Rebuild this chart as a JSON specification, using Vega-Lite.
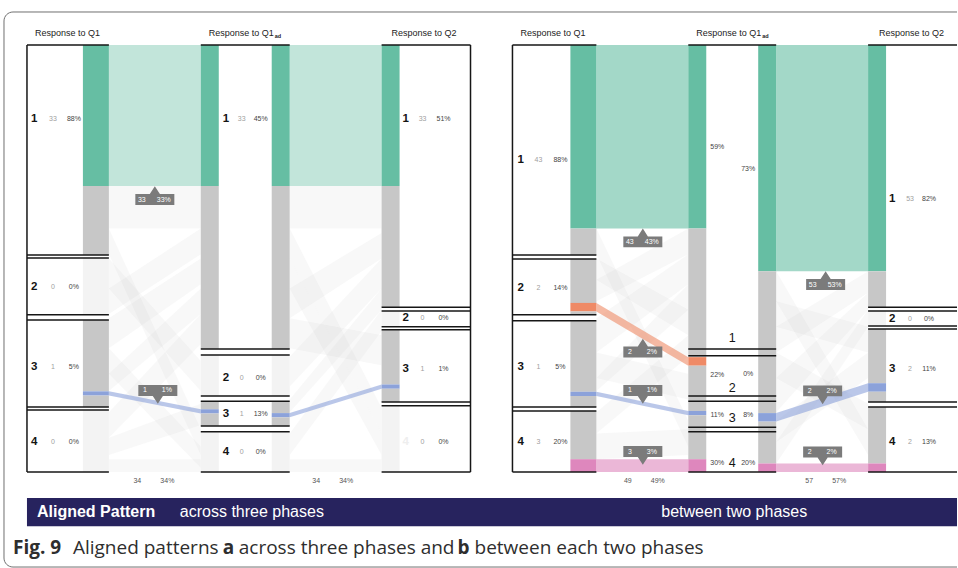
{
  "$schema": "https://vega.github.io/schema/vega-lite/v6.json",
  "width": 958,
  "height": 568,
  "autosize": {"type": "fit", "contains": "padding"},
  "padding": 0,
  "background": "white",
  "config": {"view": {"stroke": null}, "text": {"font": "Liberation Sans"}},
  "datasets": {
    "frame": [{"x0": 4, "x1": 990, "top": -7.73, "bottom": 122.25}],
    "banner": [{"x0": 27, "x1": 990, "top": 106.1, "bottom": 112.7}],
    "categories": [
      {"panel": "a", "axis": "Q1", "category": 1, "start": 0, "end": 49.2, "left": 27, "right": 109},
      {"panel": "a", "axis": "Q1", "category": 2, "start": 49.9, "end": 63.2, "left": 27, "right": 109},
      {"panel": "a", "axis": "Q1", "category": 3, "start": 64.4, "end": 84.8, "left": 27, "right": 109},
      {"panel": "a", "axis": "Q1", "category": 4, "start": 85.5, "end": 100, "left": 27, "right": 109},
      {"panel": "a", "axis": "Q1ad", "category": 1, "start": 0, "end": 71.2, "left": 201, "right": 290},
      {"panel": "a", "axis": "Q1ad", "category": 2, "start": 72.6, "end": 82.2, "left": 201, "right": 290},
      {"panel": "a", "axis": "Q1ad", "category": 3, "start": 83.4, "end": 89.2, "left": 201, "right": 290},
      {"panel": "a", "axis": "Q1ad", "category": 4, "start": 90.6, "end": 100, "left": 201, "right": 290},
      {"panel": "a", "axis": "Q2", "category": 1, "start": 0, "end": 61.4, "left": 382, "right": 471},
      {"panel": "a", "axis": "Q2", "category": 2, "start": 62.3, "end": 66.0, "left": 382, "right": 471},
      {"panel": "a", "axis": "Q2", "category": 3, "start": 66.7, "end": 83.6, "left": 382, "right": 471},
      {"panel": "a", "axis": "Q2", "category": 4, "start": 84.5, "end": 100, "left": 382, "right": 471},
      {"panel": "b", "axis": "Q1", "category": 1, "start": 0, "end": 49.2, "left": 513, "right": 597},
      {"panel": "b", "axis": "Q1", "category": 2, "start": 50.1, "end": 63.2, "left": 513, "right": 597},
      {"panel": "b", "axis": "Q1", "category": 3, "start": 64.6, "end": 84.8, "left": 513, "right": 597},
      {"panel": "b", "axis": "Q1", "category": 4, "start": 85.7, "end": 100, "left": 513, "right": 597},
      {"panel": "b", "axis": "Q1ad", "category": 1, "start": 0, "end": 71.2, "left": 689, "right": 777},
      {"panel": "b", "axis": "Q1ad", "category": 2, "start": 72.8, "end": 82.2, "left": 689, "right": 777},
      {"panel": "b", "axis": "Q1ad", "category": 3, "start": 83.4, "end": 89.5, "left": 689, "right": 777},
      {"panel": "b", "axis": "Q1ad", "category": 4, "start": 90.6, "end": 100, "left": 689, "right": 777},
      {"panel": "b", "axis": "Q2", "category": 1, "start": 0, "end": 61.4, "left": 869, "right": 958},
      {"panel": "b", "axis": "Q2", "category": 2, "start": 62.3, "end": 65.8, "left": 869, "right": 958},
      {"panel": "b", "axis": "Q2", "category": 3, "start": 66.5, "end": 83.6, "left": 869, "right": 958},
      {"panel": "b", "axis": "Q2", "category": 4, "start": 84.8, "end": 100, "left": 869, "right": 958}
    ],
    "edges": [
      {"panel": "a", "x": 27, "top": 0, "bottom": 100},
      {"panel": "a", "x": 471, "top": 0, "bottom": 100},
      {"panel": "b", "x": 513, "top": 0, "bottom": 100}
    ],
    "bars": [
      {"panel": "a", "axis": "Q1", "x0": 83, "x1": 109, "start": 0, "end": 33, "group": "aligned on 1"},
      {"panel": "a", "axis": "Q1", "x0": 83, "x1": 109, "start": 33, "end": 49.2, "group": "not aligned"},
      {"panel": "a", "axis": "Q1", "x0": 83, "x1": 109, "start": 49.9, "end": 63.2, "group": "no aligned answers"},
      {"panel": "a", "axis": "Q1", "x0": 83, "x1": 109, "start": 64.4, "end": 81.1, "group": "not aligned"},
      {"panel": "a", "axis": "Q1", "x0": 83, "x1": 109, "start": 81.1, "end": 82.1, "group": "aligned on 3"},
      {"panel": "a", "axis": "Q1", "x0": 83, "x1": 109, "start": 82.1, "end": 84.8, "group": "not aligned"},
      {"panel": "a", "axis": "Q1", "x0": 83, "x1": 109, "start": 85.5, "end": 100, "group": "no aligned answers"},

      {"panel": "a", "axis": "Q1ad in", "x0": 201, "x1": 219, "start": 0, "end": 33, "group": "aligned on 1"},
      {"panel": "a", "axis": "Q1ad in", "x0": 201, "x1": 219, "start": 33, "end": 71.2, "group": "not aligned"},
      {"panel": "a", "axis": "Q1ad in", "x0": 201, "x1": 219, "start": 72.6, "end": 82.2, "group": "no aligned answers"},
      {"panel": "a", "axis": "Q1ad in", "x0": 201, "x1": 219, "start": 83.4, "end": 85.3, "group": "not aligned"},
      {"panel": "a", "axis": "Q1ad in", "x0": 201, "x1": 219, "start": 85.3, "end": 86.3, "group": "aligned on 3"},
      {"panel": "a", "axis": "Q1ad in", "x0": 201, "x1": 219, "start": 86.3, "end": 89.2, "group": "not aligned"},
      {"panel": "a", "axis": "Q1ad in", "x0": 201, "x1": 219, "start": 90.6, "end": 100, "group": "no aligned answers"},

      {"panel": "a", "axis": "Q1ad out", "x0": 272, "x1": 290, "start": 0, "end": 33, "group": "aligned on 1"},
      {"panel": "a", "axis": "Q1ad out", "x0": 272, "x1": 290, "start": 33, "end": 71.2, "group": "not aligned"},
      {"panel": "a", "axis": "Q1ad out", "x0": 272, "x1": 290, "start": 72.6, "end": 82.2, "group": "no aligned answers"},
      {"panel": "a", "axis": "Q1ad out", "x0": 272, "x1": 290, "start": 83.4, "end": 86.2, "group": "not aligned"},
      {"panel": "a", "axis": "Q1ad out", "x0": 272, "x1": 290, "start": 86.2, "end": 87.2, "group": "aligned on 3"},
      {"panel": "a", "axis": "Q1ad out", "x0": 272, "x1": 290, "start": 87.2, "end": 89.2, "group": "not aligned"},
      {"panel": "a", "axis": "Q1ad out", "x0": 272, "x1": 290, "start": 90.6, "end": 100, "group": "no aligned answers"},

      {"panel": "a", "axis": "Q2", "x0": 382, "x1": 400, "start": 0, "end": 33, "group": "aligned on 1"},
      {"panel": "a", "axis": "Q2", "x0": 382, "x1": 400, "start": 33, "end": 61.4, "group": "not aligned"},
      {"panel": "a", "axis": "Q2", "x0": 382, "x1": 400, "start": 62.3, "end": 66.0, "group": "no aligned answers"},
      {"panel": "a", "axis": "Q2", "x0": 382, "x1": 400, "start": 66.7, "end": 79.5, "group": "not aligned"},
      {"panel": "a", "axis": "Q2", "x0": 382, "x1": 400, "start": 79.5, "end": 80.5, "group": "aligned on 3"},
      {"panel": "a", "axis": "Q2", "x0": 382, "x1": 400, "start": 80.5, "end": 83.6, "group": "not aligned"},
      {"panel": "a", "axis": "Q2", "x0": 382, "x1": 400, "start": 84.5, "end": 100, "group": "no aligned answers"},

      {"panel": "b", "axis": "Q1", "x0": 571, "x1": 597, "start": 0, "end": 43, "group": "aligned on 1"},
      {"panel": "b", "axis": "Q1", "x0": 571, "x1": 597, "start": 43, "end": 49.2, "group": "not aligned"},
      {"panel": "b", "axis": "Q1", "x0": 571, "x1": 597, "start": 50.1, "end": 60.4, "group": "not aligned"},
      {"panel": "b", "axis": "Q1", "x0": 571, "x1": 597, "start": 60.4, "end": 62.4, "group": "aligned on 2"},
      {"panel": "b", "axis": "Q1", "x0": 571, "x1": 597, "start": 62.4, "end": 63.2, "group": "not aligned"},
      {"panel": "b", "axis": "Q1", "x0": 571, "x1": 597, "start": 64.6, "end": 81.2, "group": "not aligned"},
      {"panel": "b", "axis": "Q1", "x0": 571, "x1": 597, "start": 81.2, "end": 82.2, "group": "aligned on 3"},
      {"panel": "b", "axis": "Q1", "x0": 571, "x1": 597, "start": 82.2, "end": 84.8, "group": "not aligned"},
      {"panel": "b", "axis": "Q1", "x0": 571, "x1": 597, "start": 85.7, "end": 97, "group": "not aligned"},
      {"panel": "b", "axis": "Q1", "x0": 571, "x1": 597, "start": 97, "end": 100, "group": "aligned on 4"},

      {"panel": "b", "axis": "Q1ad in", "x0": 689, "x1": 707, "start": 0, "end": 43, "group": "aligned on 1"},
      {"panel": "b", "axis": "Q1ad in", "x0": 689, "x1": 707, "start": 43, "end": 73.1, "group": "not aligned"},
      {"panel": "b", "axis": "Q1ad in", "x0": 689, "x1": 707, "start": 73.1, "end": 75.1, "group": "aligned on 2"},
      {"panel": "b", "axis": "Q1ad in", "x0": 689, "x1": 707, "start": 75.1, "end": 85.7, "group": "not aligned"},
      {"panel": "b", "axis": "Q1ad in", "x0": 689, "x1": 707, "start": 85.7, "end": 86.7, "group": "aligned on 3"},
      {"panel": "b", "axis": "Q1ad in", "x0": 689, "x1": 707, "start": 86.7, "end": 97, "group": "not aligned"},
      {"panel": "b", "axis": "Q1ad in", "x0": 689, "x1": 707, "start": 97, "end": 100, "group": "aligned on 4"},

      {"panel": "b", "axis": "Q1ad out", "x0": 759, "x1": 777, "start": 0, "end": 53, "group": "aligned on 1"},
      {"panel": "b", "axis": "Q1ad out", "x0": 759, "x1": 777, "start": 53, "end": 86.2, "group": "not aligned"},
      {"panel": "b", "axis": "Q1ad out", "x0": 759, "x1": 777, "start": 86.2, "end": 88.2, "group": "aligned on 3"},
      {"panel": "b", "axis": "Q1ad out", "x0": 759, "x1": 777, "start": 88.2, "end": 98, "group": "not aligned"},
      {"panel": "b", "axis": "Q1ad out", "x0": 759, "x1": 777, "start": 98, "end": 100, "group": "aligned on 4"},

      {"panel": "b", "axis": "Q2", "x0": 869, "x1": 887, "start": 0, "end": 53, "group": "aligned on 1"},
      {"panel": "b", "axis": "Q2", "x0": 869, "x1": 887, "start": 53, "end": 61.4, "group": "not aligned"},
      {"panel": "b", "axis": "Q2", "x0": 869, "x1": 887, "start": 62.3, "end": 65.8, "group": "no aligned answers"},
      {"panel": "b", "axis": "Q2", "x0": 869, "x1": 887, "start": 66.5, "end": 79.2, "group": "not aligned"},
      {"panel": "b", "axis": "Q2", "x0": 869, "x1": 887, "start": 79.2, "end": 81.2, "group": "aligned on 3"},
      {"panel": "b", "axis": "Q2", "x0": 869, "x1": 887, "start": 81.2, "end": 83.6, "group": "not aligned"},
      {"panel": "b", "axis": "Q2", "x0": 869, "x1": 887, "start": 84.8, "end": 98, "group": "not aligned"},
      {"panel": "b", "axis": "Q2", "x0": 869, "x1": 887, "start": 98, "end": 100, "group": "aligned on 4"}
    ],
    "ribbons": [
      {"panel": "a", "id": "a1-1", "group": "aligned on 1", "x": 109, "top": 0, "bottom": 33},
      {"panel": "a", "id": "a1-1", "group": "aligned on 1", "x": 201, "top": 0, "bottom": 33},
      {"panel": "a", "id": "a1-3", "group": "aligned on 3", "x": 109, "top": 81.1, "bottom": 82.1},
      {"panel": "a", "id": "a1-3", "group": "aligned on 3", "x": 201, "top": 85.3, "bottom": 86.3},
      {"panel": "a", "id": "a2-1", "group": "aligned on 1", "x": 290, "top": 0, "bottom": 33},
      {"panel": "a", "id": "a2-1", "group": "aligned on 1", "x": 382, "top": 0, "bottom": 33},
      {"panel": "a", "id": "a2-3", "group": "aligned on 3", "x": 290, "top": 86.2, "bottom": 87.2},
      {"panel": "a", "id": "a2-3", "group": "aligned on 3", "x": 382, "top": 79.5, "bottom": 80.5},
      {"panel": "b", "id": "b1-1", "group": "aligned on 1", "x": 597, "top": 0, "bottom": 43},
      {"panel": "b", "id": "b1-1", "group": "aligned on 1", "x": 689, "top": 0, "bottom": 43},
      {"panel": "b", "id": "b1-2", "group": "aligned on 2", "x": 597, "top": 60.4, "bottom": 62.4},
      {"panel": "b", "id": "b1-2", "group": "aligned on 2", "x": 689, "top": 73.1, "bottom": 75.1},
      {"panel": "b", "id": "b1-3", "group": "aligned on 3", "x": 597, "top": 81.2, "bottom": 82.2},
      {"panel": "b", "id": "b1-3", "group": "aligned on 3", "x": 689, "top": 85.7, "bottom": 86.7},
      {"panel": "b", "id": "b1-4", "group": "aligned on 4", "x": 597, "top": 97, "bottom": 100},
      {"panel": "b", "id": "b1-4", "group": "aligned on 4", "x": 689, "top": 97, "bottom": 100},
      {"panel": "b", "id": "b2-1", "group": "aligned on 1", "x": 777, "top": 0, "bottom": 53},
      {"panel": "b", "id": "b2-1", "group": "aligned on 1", "x": 869, "top": 0, "bottom": 53},
      {"panel": "b", "id": "b2-3", "group": "aligned on 3", "x": 777, "top": 86.2, "bottom": 88.2},
      {"panel": "b", "id": "b2-3", "group": "aligned on 3", "x": 869, "top": 79.2, "bottom": 81.2},
      {"panel": "b", "id": "b2-4", "group": "aligned on 4", "x": 777, "top": 98, "bottom": 100},
      {"panel": "b", "id": "b2-4", "group": "aligned on 4", "x": 869, "top": 98, "bottom": 100}
    ],
    "crossings": [
      {"id": "a1-r1", "x": 109, "top": 33, "bottom": 43}, {"id": "a1-r1", "x": 201, "top": 33, "bottom": 43},
      {"id": "a1-r2", "x": 109, "top": 43, "bottom": 49}, {"id": "a1-r2", "x": 201, "top": 90, "bottom": 96},
      {"id": "a1-r3", "x": 109, "top": 50, "bottom": 57}, {"id": "a1-r3", "x": 201, "top": 74, "bottom": 81},
      {"id": "a1-r4", "x": 109, "top": 57, "bottom": 63}, {"id": "a1-r4", "x": 201, "top": 43, "bottom": 49},
      {"id": "a1-r5", "x": 109, "top": 64, "bottom": 71}, {"id": "a1-r5", "x": 201, "top": 50, "bottom": 56},
      {"id": "a1-r6", "x": 109, "top": 71, "bottom": 77}, {"id": "a1-r6", "x": 201, "top": 94, "bottom": 99},
      {"id": "a1-r7", "x": 109, "top": 77, "bottom": 81}, {"id": "a1-r7", "x": 201, "top": 57, "bottom": 63},
      {"id": "a1-r8", "x": 109, "top": 86, "bottom": 92}, {"id": "a1-r8", "x": 201, "top": 63, "bottom": 70},
      {"id": "a1-r9", "x": 109, "top": 92, "bottom": 96}, {"id": "a1-r9", "x": 201, "top": 84, "bottom": 89},
      {"id": "a1-r10", "x": 109, "top": 97, "bottom": 100}, {"id": "a1-r10", "x": 201, "top": 97, "bottom": 100},

      {"id": "a2-r1", "x": 290, "top": 33, "bottom": 43}, {"id": "a2-r1", "x": 382, "top": 33, "bottom": 43},
      {"id": "a2-r2", "x": 290, "top": 43, "bottom": 50}, {"id": "a2-r2", "x": 382, "top": 85, "bottom": 91},
      {"id": "a2-r3", "x": 290, "top": 50, "bottom": 57}, {"id": "a2-r3", "x": 382, "top": 91, "bottom": 96},
      {"id": "a2-r4", "x": 290, "top": 57, "bottom": 64}, {"id": "a2-r4", "x": 382, "top": 44, "bottom": 50},
      {"id": "a2-r5", "x": 290, "top": 64, "bottom": 71}, {"id": "a2-r5", "x": 382, "top": 68, "bottom": 75},
      {"id": "a2-r6", "x": 290, "top": 73, "bottom": 80}, {"id": "a2-r6", "x": 382, "top": 50, "bottom": 57},
      {"id": "a2-r7", "x": 290, "top": 83, "bottom": 86}, {"id": "a2-r7", "x": 382, "top": 57, "bottom": 62},
      {"id": "a2-r8", "x": 290, "top": 91, "bottom": 96}, {"id": "a2-r8", "x": 382, "top": 62, "bottom": 67},
      {"id": "a2-r9", "x": 290, "top": 97, "bottom": 100}, {"id": "a2-r9", "x": 382, "top": 97, "bottom": 100},

      {"id": "b1-r1", "x": 597, "top": 43, "bottom": 49}, {"id": "b1-r1", "x": 689, "top": 88, "bottom": 94},
      {"id": "b1-r2", "x": 597, "top": 50, "bottom": 55}, {"id": "b1-r2", "x": 689, "top": 62, "bottom": 68},
      {"id": "b1-r3", "x": 597, "top": 55, "bottom": 60}, {"id": "b1-r3", "x": 689, "top": 43, "bottom": 49},
      {"id": "b1-r4", "x": 597, "top": 64, "bottom": 72}, {"id": "b1-r4", "x": 689, "top": 49, "bottom": 56},
      {"id": "b1-r5", "x": 597, "top": 72, "bottom": 78}, {"id": "b1-r5", "x": 689, "top": 77, "bottom": 83},
      {"id": "b1-r6", "x": 597, "top": 78, "bottom": 81}, {"id": "b1-r6", "x": 689, "top": 56, "bottom": 62},
      {"id": "b1-r7", "x": 597, "top": 86, "bottom": 91}, {"id": "b1-r7", "x": 689, "top": 68, "bottom": 73},
      {"id": "b1-r8", "x": 597, "top": 91, "bottom": 97}, {"id": "b1-r8", "x": 689, "top": 90, "bottom": 96},

      {"id": "b2-r1", "x": 777, "top": 53, "bottom": 60}, {"id": "b2-r1", "x": 869, "top": 90, "bottom": 96},
      {"id": "b2-r2", "x": 777, "top": 60, "bottom": 66}, {"id": "b2-r2", "x": 869, "top": 66, "bottom": 72},
      {"id": "b2-r3", "x": 777, "top": 66, "bottom": 72}, {"id": "b2-r3", "x": 869, "top": 53, "bottom": 58},
      {"id": "b2-r4", "x": 777, "top": 72, "bottom": 78}, {"id": "b2-r4", "x": 869, "top": 84, "bottom": 90},
      {"id": "b2-r5", "x": 777, "top": 78, "bottom": 86}, {"id": "b2-r5", "x": 869, "top": 58, "bottom": 62},
      {"id": "b2-r6", "x": 777, "top": 88, "bottom": 93}, {"id": "b2-r6", "x": 869, "top": 72, "bottom": 78},
      {"id": "b2-r7", "x": 777, "top": 93, "bottom": 98}, {"id": "b2-r7", "x": 869, "top": 62, "bottom": 66}
    ],
    "headers": [
      {"title": "Response to Q1", "x": 35},
      {"title": "Response to Q1", "x": 209},
      {"title": "Response to Q2", "x": 392},
      {"title": "Response to Q1", "x": 521},
      {"title": "Response to Q1", "x": 697},
      {"title": "Response to Q2", "x": 880}
    ],
    "subscripts": [
      {"sub": "ad", "x": 275},
      {"sub": "ad", "x": 763}
    ],
    "labels": [
      {"panel": "a", "axis": "Q1", "category": 1, "count": 33, "pct": "88%", "y": 17.3, "xDigit": 31, "xCount": 53, "xPct": 74},
      {"panel": "a", "axis": "Q1", "category": 2, "count": 0, "pct": "0%", "y": 56.7, "xDigit": 31, "xCount": 53, "xPct": 74},
      {"panel": "a", "axis": "Q1", "category": 3, "count": 1, "pct": "5%", "y": 75.4, "xDigit": 31, "xCount": 53, "xPct": 74},
      {"panel": "a", "axis": "Q1", "category": 4, "count": 0, "pct": "0%", "y": 93.0, "xDigit": 31, "xCount": 53, "xPct": 74},
      {"panel": "a", "axis": "Q1ad", "category": 1, "count": 33, "pct": "45%", "y": 17.3, "xDigit": 223, "xCount": 242, "xPct": 261},
      {"panel": "a", "axis": "Q1ad", "category": 2, "count": 0, "pct": "0%", "y": 78.0, "xDigit": 223, "xCount": 242, "xPct": 261},
      {"panel": "a", "axis": "Q1ad", "category": 3, "count": 1, "pct": "13%", "y": 86.4, "xDigit": 223, "xCount": 242, "xPct": 261},
      {"panel": "a", "axis": "Q1ad", "category": 4, "count": 0, "pct": "0%", "y": 95.3, "xDigit": 223, "xCount": 242, "xPct": 261},
      {"panel": "a", "axis": "Q2", "category": 1, "count": 33, "pct": "51%", "y": 17.3, "xDigit": 403, "xCount": 423, "xPct": 444},
      {"panel": "a", "axis": "Q2", "category": 2, "count": 0, "pct": "0%", "y": 63.9, "xDigit": 403, "xCount": 423, "xPct": 444},
      {"panel": "a", "axis": "Q2", "category": 3, "count": 1, "pct": "1%", "y": 75.9, "xDigit": 403, "xCount": 423, "xPct": 444},
      {"panel": "a", "axis": "Q2", "category": 4, "count": 0, "pct": "0%", "y": 93.0, "xDigit": 403, "xCount": 423, "xPct": 444},
      {"panel": "b", "axis": "Q1", "category": 1, "count": 43, "pct": "88%", "y": 26.9, "xDigit": 518, "xCount": 539, "xPct": 561},
      {"panel": "b", "axis": "Q1", "category": 2, "count": 2, "pct": "14%", "y": 56.9, "xDigit": 518, "xCount": 539, "xPct": 561},
      {"panel": "b", "axis": "Q1", "category": 3, "count": 1, "pct": "5%", "y": 75.4, "xDigit": 518, "xCount": 539, "xPct": 561},
      {"panel": "b", "axis": "Q1", "category": 4, "count": 3, "pct": "20%", "y": 93.0, "xDigit": 518, "xCount": 539, "xPct": 561},
      {"panel": "b", "axis": "Q2", "category": 1, "count": 53, "pct": "82%", "y": 36.1, "xDigit": 890, "xCount": 911, "xPct": 930},
      {"panel": "b", "axis": "Q2", "category": 2, "count": 0, "pct": "0%", "y": 64.2, "xDigit": 890, "xCount": 911, "xPct": 930},
      {"panel": "b", "axis": "Q2", "category": 3, "count": 2, "pct": "11%", "y": 75.9, "xDigit": 890, "xCount": 911, "xPct": 930},
      {"panel": "b", "axis": "Q2", "category": 4, "count": 2, "pct": "13%", "y": 93.0, "xDigit": 890, "xCount": 911, "xPct": 930}
    ],
    "middleAxis": [
      {"category": 1, "y": 68.6, "shareIn": "59%", "yIn": 23.9, "shareOut": "73%", "yOut": 29.0},
      {"category": 2, "y": 80.3, "shareIn": "22%", "yIn": 77.3, "shareOut": "0%", "yOut": 77.0},
      {"category": 3, "y": 87.4, "shareIn": "11%", "yIn": 86.7, "shareOut": "8%", "yOut": 86.7},
      {"category": 4, "y": 97.9, "shareIn": "30%", "yIn": 97.9, "shareOut": "20%", "yOut": 97.9}
    ],
    "totals": [
      {"panel": "a", "link": "Q1-Q1ad", "count": 34, "pct": "34%", "x": 152.5},
      {"panel": "a", "link": "Q1ad-Q2", "count": 34, "pct": "34%", "x": 331.5},
      {"panel": "b", "link": "Q1-Q1ad", "count": 49, "pct": "49%", "x": 643.5},
      {"panel": "b", "link": "Q1ad-Q2", "count": 57, "pct": "57%", "x": 825}
    ],
    "callouts": [
      {"panel": "a", "link": "Q1-Q1ad", "count": 33, "pct": "33%", "x": 155, "y": 36.2, "dir": "up"},
      {"panel": "a", "link": "Q1-Q1ad", "count": 1, "pct": "1%", "x": 158, "y": 80.9, "dir": "down"},
      {"panel": "b", "link": "Q1-Q1ad", "count": 43, "pct": "43%", "x": 643.5, "y": 46.1, "dir": "up"},
      {"panel": "b", "link": "Q1-Q1ad", "count": 2, "pct": "2%", "x": 643.5, "y": 71.9, "dir": "up"},
      {"panel": "b", "link": "Q1-Q1ad", "count": 1, "pct": "1%", "x": 643.5, "y": 80.9, "dir": "down"},
      {"panel": "b", "link": "Q1-Q1ad", "count": 3, "pct": "3%", "x": 643.5, "y": 95.2, "dir": "down"},
      {"panel": "b", "link": "Q1ad-Q2", "count": 53, "pct": "53%", "x": 826.5, "y": 56.1, "dir": "up"},
      {"panel": "b", "link": "Q1ad-Q2", "count": 2, "pct": "2%", "x": 823.5, "y": 81.0, "dir": "down"},
      {"panel": "b", "link": "Q1ad-Q2", "count": 2, "pct": "2%", "x": 823.5, "y": 95.3, "dir": "down"}
    ],
    "bannerBold": [{"text": "Aligned Pattern", "x": 37}],
    "bannerText": [
      {"text": "across three phases", "x": 180},
      {"text": "between two phases", "x": 662}
    ],
    "captionBold": [
      {"text": "Fig. 9", "x": 13},
      {"text": "a", "x": 223},
      {"text": "b", "x": 458}
    ],
    "captionText": [
      {"text": "Aligned patterns", "x": 73},
      {"text": "across three phases and", "x": 239},
      {"text": "between each two phases", "x": 475}
    ]
  },
  "layer": [
    {
      "data": {"name": "frame"},
      "mark": {"type": "rect", "fill": "transparent", "stroke": "#707070", "strokeWidth": 1, "cornerRadius": 9, "clip": true},
      "encoding": {
        "x": {"field": "x0", "type": "quantitative", "scale": {"domain": [0, 958], "nice": false, "zero": false}, "axis": null},
        "x2": {"field": "x1"},
        "y": {"field": "top", "type": "quantitative", "scale": {"domain": [-10.54, 122.48], "reverse": true, "nice": false, "zero": false}, "axis": null},
        "y2": {"field": "bottom"}
      }
    },
    {
      "data": {"name": "crossings"},
      "mark": {"type": "area", "color": "#c8c8c8", "opacity": 0.13},
      "encoding": {
        "x": {"field": "x", "type": "quantitative", "scale": {"domain": [0, 958], "nice": false, "zero": false}, "axis": null},
        "y": {"field": "top", "type": "quantitative", "scale": {"domain": [-10.54, 122.48], "reverse": true, "nice": false, "zero": false}, "axis": null},
        "y2": {"field": "bottom"},
        "detail": {"field": "id"}
      }
    },
    {
      "data": {"name": "ribbons"},
      "mark": {"type": "area"},
      "encoding": {
        "x": {"field": "x", "type": "quantitative", "scale": {"domain": [0, 958], "nice": false, "zero": false}, "axis": null},
        "y": {"field": "top", "type": "quantitative", "scale": {"domain": [-10.54, 122.48], "reverse": true, "nice": false, "zero": false}, "axis": null},
        "y2": {"field": "bottom"},
        "detail": {"field": "id"},
        "color": {"field": "group", "type": "nominal", "legend": null,
          "scale": {"domain": ["aligned on 1", "aligned on 2", "aligned on 3", "aligned on 4", "not aligned", "no aligned answers"],
                    "range": ["#66bea3", "#ef8a66", "#8ca2da", "#de87bd", "#c7c7c7", "#f3f3f3"]}},
        "opacity": {"condition": {"test": "datum.panel === 'a' && datum.group === 'aligned on 1'", "value": 0.4}, "value": 0.6}
      }
    },
    {
      "data": {"name": "bars"},
      "mark": {"type": "rect"},
      "encoding": {
        "x": {"field": "x0", "type": "quantitative", "scale": {"domain": [0, 958], "nice": false, "zero": false}, "axis": null},
        "x2": {"field": "x1"},
        "y": {"field": "start", "type": "quantitative", "scale": {"domain": [-10.54, 122.48], "reverse": true, "nice": false, "zero": false}, "axis": null},
        "y2": {"field": "end"},
        "color": {"field": "group", "type": "nominal", "legend": null,
          "scale": {"domain": ["aligned on 1", "aligned on 2", "aligned on 3", "aligned on 4", "not aligned", "no aligned answers"],
                    "range": ["#66bea3", "#ef8a66", "#8ca2da", "#de87bd", "#c7c7c7", "#f3f3f3"]}}
      }
    },
    {
      "data": {"name": "categories"},
      "mark": {"type": "rule", "color": "#161616", "strokeWidth": 1.5},
      "encoding": {
        "x": {"field": "left", "type": "quantitative", "scale": {"domain": [0, 958], "nice": false, "zero": false}, "axis": null},
        "x2": {"field": "right"},
        "y": {"field": "start", "type": "quantitative", "scale": {"domain": [-10.54, 122.48], "reverse": true, "nice": false, "zero": false}, "axis": null}
      }
    },
    {
      "data": {"name": "categories"},
      "mark": {"type": "rule", "color": "#161616", "strokeWidth": 1.5},
      "encoding": {
        "x": {"field": "left", "type": "quantitative", "scale": {"domain": [0, 958], "nice": false, "zero": false}, "axis": null},
        "x2": {"field": "right"},
        "y": {"field": "end", "type": "quantitative", "scale": {"domain": [-10.54, 122.48], "reverse": true, "nice": false, "zero": false}, "axis": null}
      }
    },
    {
      "data": {"name": "edges"},
      "mark": {"type": "rule", "color": "#161616", "strokeWidth": 1.5},
      "encoding": {
        "x": {"field": "x", "type": "quantitative", "scale": {"domain": [0, 958], "nice": false, "zero": false}, "axis": null},
        "y": {"field": "top", "type": "quantitative", "scale": {"domain": [-10.54, 122.48], "reverse": true, "nice": false, "zero": false}, "axis": null},
        "y2": {"field": "bottom"}
      }
    },
    {
      "data": {"name": "headers"},
      "mark": {"type": "text", "align": "left", "baseline": "middle", "fontSize": 9, "color": "#222222"},
      "encoding": {
        "x": {"field": "x", "type": "quantitative", "scale": {"domain": [0, 958], "nice": false, "zero": false}, "axis": null},
        "y": {"datum": -2.8, "type": "quantitative", "scale": {"domain": [-10.54, 122.48], "reverse": true, "nice": false, "zero": false}, "axis": null},
        "text": {"field": "title"}
      }
    },
    {
      "data": {"name": "subscripts"},
      "mark": {"type": "text", "align": "left", "baseline": "middle", "fontSize": 5.5, "fontWeight": "bold", "color": "#222222"},
      "encoding": {
        "x": {"field": "x", "type": "quantitative", "scale": {"domain": [0, 958], "nice": false, "zero": false}, "axis": null},
        "y": {"datum": -2.1, "type": "quantitative", "scale": {"domain": [-10.54, 122.48], "reverse": true, "nice": false, "zero": false}, "axis": null},
        "text": {"field": "sub"}
      }
    },
    {
      "data": {"name": "labels"},
      "mark": {"type": "text", "align": "left", "baseline": "middle", "fontSize": 11.5, "fontWeight": "bold"},
      "encoding": {
        "x": {"field": "xDigit", "type": "quantitative", "scale": {"domain": [0, 958], "nice": false, "zero": false}, "axis": null},
        "y": {"field": "y", "type": "quantitative", "scale": {"domain": [-10.54, 122.48], "reverse": true, "nice": false, "zero": false}, "axis": null},
        "text": {"field": "category"},
        "color": {"condition": {"test": "datum.panel === 'a' && datum.axis === 'Q2' && datum.category === 4", "value": "#eeeeee"}, "value": "#141414"}
      }
    },
    {
      "data": {"name": "labels"},
      "mark": {"type": "text", "align": "center", "baseline": "middle", "fontSize": 7, "color": "#a0a0a0"},
      "encoding": {
        "x": {"field": "xCount", "type": "quantitative", "scale": {"domain": [0, 958], "nice": false, "zero": false}, "axis": null},
        "y": {"field": "y", "type": "quantitative", "scale": {"domain": [-10.54, 122.48], "reverse": true, "nice": false, "zero": false}, "axis": null},
        "text": {"field": "count"}
      }
    },
    {
      "data": {"name": "labels"},
      "mark": {"type": "text", "align": "center", "baseline": "middle", "fontSize": 7, "color": "#444444"},
      "encoding": {
        "x": {"field": "xPct", "type": "quantitative", "scale": {"domain": [0, 958], "nice": false, "zero": false}, "axis": null},
        "y": {"field": "y", "type": "quantitative", "scale": {"domain": [-10.54, 122.48], "reverse": true, "nice": false, "zero": false}, "axis": null},
        "text": {"field": "pct"}
      }
    },
    {
      "data": {"name": "middleAxis"},
      "mark": {"type": "text", "align": "center", "baseline": "middle", "fontSize": 12.5, "color": "#141414"},
      "encoding": {
        "x": {"datum": 733, "type": "quantitative", "scale": {"domain": [0, 958], "nice": false, "zero": false}, "axis": null},
        "y": {"field": "y", "type": "quantitative", "scale": {"domain": [-10.54, 122.48], "reverse": true, "nice": false, "zero": false}, "axis": null},
        "text": {"field": "category"}
      }
    },
    {
      "data": {"name": "middleAxis"},
      "mark": {"type": "text", "align": "center", "baseline": "middle", "fontSize": 7, "color": "#444444"},
      "encoding": {
        "x": {"datum": 718, "type": "quantitative", "scale": {"domain": [0, 958], "nice": false, "zero": false}, "axis": null},
        "y": {"field": "yIn", "type": "quantitative", "scale": {"domain": [-10.54, 122.48], "reverse": true, "nice": false, "zero": false}, "axis": null},
        "text": {"field": "shareIn"}
      }
    },
    {
      "data": {"name": "middleAxis"},
      "mark": {"type": "text", "align": "center", "baseline": "middle", "fontSize": 7, "color": "#444444"},
      "encoding": {
        "x": {"datum": 749, "type": "quantitative", "scale": {"domain": [0, 958], "nice": false, "zero": false}, "axis": null},
        "y": {"field": "yOut", "type": "quantitative", "scale": {"domain": [-10.54, 122.48], "reverse": true, "nice": false, "zero": false}, "axis": null},
        "text": {"field": "shareOut"}
      }
    },
    {
      "data": {"name": "totals"},
      "mark": {"type": "text", "align": "center", "baseline": "middle", "fontSize": 7, "color": "#555555", "dx": -15},
      "encoding": {
        "x": {"field": "x", "type": "quantitative", "scale": {"domain": [0, 958], "nice": false, "zero": false}, "axis": null},
        "y": {"datum": 102.1, "type": "quantitative", "scale": {"domain": [-10.54, 122.48], "reverse": true, "nice": false, "zero": false}, "axis": null},
        "text": {"field": "count"}
      }
    },
    {
      "data": {"name": "totals"},
      "mark": {"type": "text", "align": "center", "baseline": "middle", "fontSize": 7, "color": "#555555", "dx": 15},
      "encoding": {
        "x": {"field": "x", "type": "quantitative", "scale": {"domain": [0, 958], "nice": false, "zero": false}, "axis": null},
        "y": {"datum": 102.1, "type": "quantitative", "scale": {"domain": [-10.54, 122.48], "reverse": true, "nice": false, "zero": false}, "axis": null},
        "text": {"field": "pct"}
      }
    },
    {
      "data": {"name": "callouts"},
      "transform": [{"filter": "datum.dir === 'up'"}],
      "mark": {"type": "point", "filled": true, "opacity": 1, "color": "#7b7b7b", "strokeWidth": 0, "size": 1521,
               "shape": "M-1,-0.28L-0.26,-0.28L0,-0.68L0.26,-0.28L1,-0.28L1,0.28L-1,0.28Z"},
      "encoding": {
        "x": {"field": "x", "type": "quantitative", "scale": {"domain": [0, 958], "nice": false, "zero": false}, "axis": null},
        "y": {"field": "y", "type": "quantitative", "scale": {"domain": [-10.54, 122.48], "reverse": true, "nice": false, "zero": false}, "axis": null}
      }
    },
    {
      "data": {"name": "callouts"},
      "transform": [{"filter": "datum.dir === 'down'"}],
      "mark": {"type": "point", "filled": true, "opacity": 1, "color": "#7b7b7b", "strokeWidth": 0, "size": 1521,
               "shape": "M-1,-0.28L1,-0.28L1,0.28L0.26,0.28L0,0.68L-0.26,0.28L-1,0.28Z"},
      "encoding": {
        "x": {"field": "x", "type": "quantitative", "scale": {"domain": [0, 958], "nice": false, "zero": false}, "axis": null},
        "y": {"field": "y", "type": "quantitative", "scale": {"domain": [-10.54, 122.48], "reverse": true, "nice": false, "zero": false}, "axis": null}
      }
    },
    {
      "data": {"name": "callouts"},
      "mark": {"type": "text", "align": "center", "baseline": "middle", "fontSize": 7, "color": "white", "dx": -13},
      "encoding": {
        "x": {"field": "x", "type": "quantitative", "scale": {"domain": [0, 958], "nice": false, "zero": false}, "axis": null},
        "y": {"field": "y", "type": "quantitative", "scale": {"domain": [-10.54, 122.48], "reverse": true, "nice": false, "zero": false}, "axis": null},
        "text": {"field": "count"}
      }
    },
    {
      "data": {"name": "callouts"},
      "mark": {"type": "text", "align": "center", "baseline": "middle", "fontSize": 7, "color": "white", "dx": 9},
      "encoding": {
        "x": {"field": "x", "type": "quantitative", "scale": {"domain": [0, 958], "nice": false, "zero": false}, "axis": null},
        "y": {"field": "y", "type": "quantitative", "scale": {"domain": [-10.54, 122.48], "reverse": true, "nice": false, "zero": false}, "axis": null},
        "text": {"field": "pct"}
      }
    },
    {
      "data": {"name": "banner"},
      "mark": {"type": "rect", "color": "#27235e", "clip": true},
      "encoding": {
        "x": {"field": "x0", "type": "quantitative", "scale": {"domain": [0, 958], "nice": false, "zero": false}, "axis": null},
        "x2": {"field": "x1"},
        "y": {"field": "top", "type": "quantitative", "scale": {"domain": [-10.54, 122.48], "reverse": true, "nice": false, "zero": false}, "axis": null},
        "y2": {"field": "bottom"}
      }
    },
    {
      "data": {"name": "bannerBold"},
      "mark": {"type": "text", "align": "left", "baseline": "middle", "fontSize": 16, "fontWeight": "bold", "color": "white"},
      "encoding": {
        "x": {"field": "x", "type": "quantitative", "scale": {"domain": [0, 958], "nice": false, "zero": false}, "axis": null},
        "y": {"datum": 109.4, "type": "quantitative", "scale": {"domain": [-10.54, 122.48], "reverse": true, "nice": false, "zero": false}, "axis": null},
        "text": {"field": "text"}
      }
    },
    {
      "data": {"name": "bannerText"},
      "mark": {"type": "text", "align": "left", "baseline": "middle", "fontSize": 16, "color": "white"},
      "encoding": {
        "x": {"field": "x", "type": "quantitative", "scale": {"domain": [0, 958], "nice": false, "zero": false}, "axis": null},
        "y": {"datum": 109.4, "type": "quantitative", "scale": {"domain": [-10.54, 122.48], "reverse": true, "nice": false, "zero": false}, "axis": null},
        "text": {"field": "text"}
      }
    },
    {
      "data": {"name": "captionBold"},
      "mark": {"type": "text", "align": "left", "baseline": "middle", "fontSize": 19, "fontWeight": "bold", "font": "Open Sans", "color": "#2e2e2e"},
      "encoding": {
        "x": {"field": "x", "type": "quantitative", "scale": {"domain": [0, 958], "nice": false, "zero": false}, "axis": null},
        "y": {"datum": 117.9, "type": "quantitative", "scale": {"domain": [-10.54, 122.48], "reverse": true, "nice": false, "zero": false}, "axis": null},
        "text": {"field": "text"}
      }
    },
    {
      "data": {"name": "captionText"},
      "mark": {"type": "text", "align": "left", "baseline": "middle", "fontSize": 19, "font": "Open Sans", "color": "#2e2e2e"},
      "encoding": {
        "x": {"field": "x", "type": "quantitative", "scale": {"domain": [0, 958], "nice": false, "zero": false}, "axis": null},
        "y": {"datum": 117.9, "type": "quantitative", "scale": {"domain": [-10.54, 122.48], "reverse": true, "nice": false, "zero": false}, "axis": null},
        "text": {"field": "text"}
      }
    }
  ]
}
